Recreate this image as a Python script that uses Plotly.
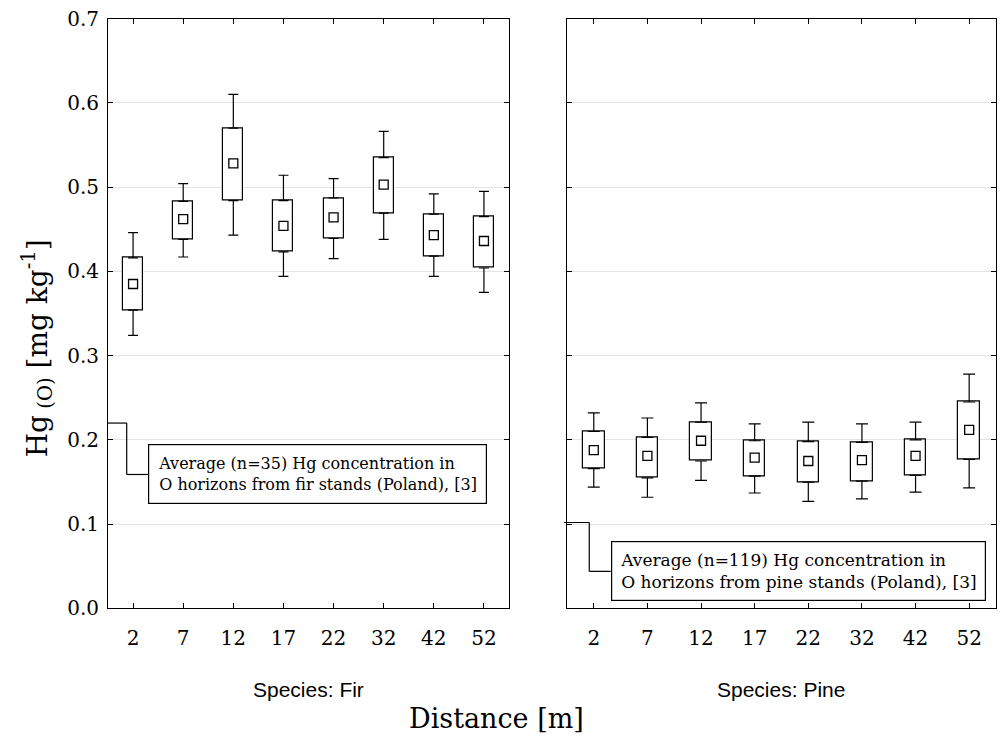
import plotly.graph_objects as go

# ---------------- data ----------------
distances = ['2', '7', '12', '17', '22', '32', '42', '52']

fir_mean = [0.385, 0.462, 0.528, 0.454, 0.464, 0.503, 0.443, 0.436]
fir_box_low = [0.354, 0.438, 0.484, 0.423, 0.439, 0.469, 0.418, 0.404]
fir_box_high = [0.416, 0.483, 0.570, 0.484, 0.487, 0.535, 0.468, 0.465]
fir_whisk_low = [0.324, 0.417, 0.443, 0.394, 0.415, 0.438, 0.394, 0.375]
fir_whisk_high = [0.446, 0.504, 0.610, 0.514, 0.510, 0.566, 0.492, 0.495]

pine_mean = [0.188, 0.181, 0.199, 0.179, 0.175, 0.176, 0.181, 0.212]
pine_box_low = [0.166, 0.155, 0.175, 0.157, 0.150, 0.151, 0.158, 0.177]
pine_box_high = [0.210, 0.203, 0.221, 0.199, 0.198, 0.197, 0.200, 0.245]
pine_whisk_low = [0.144, 0.132, 0.152, 0.137, 0.127, 0.130, 0.138, 0.143]
pine_whisk_high = [0.232, 0.226, 0.244, 0.219, 0.221, 0.219, 0.221, 0.278]

panel_titles = ['Species: Fir', 'Species: Pine']
ref_values = [0.22, 0.102]
ref_texts = [
    'Average (n=35) Hg concentration in<br>O horizons from fir stands (Poland), [3]',
    'Average (n=119) Hg concentration in<br>O horizons from pine stands (Poland), [3]',
]
y_ticks = [0.0, 0.1, 0.2, 0.3, 0.4, 0.5, 0.6, 0.7]

SERIF = 'DejaVu Serif'
SANS = 'Liberation Sans'

fig = go.Figure()

panels = [
    ('x', 'y', fir_mean, fir_box_low, fir_box_high, fir_whisk_low, fir_whisk_high, 5),
    ('x2', 'y2', pine_mean, pine_box_low, pine_box_high, pine_whisk_low, pine_whisk_high, 6),
]

for xa, ya, mean, bl, bh, wl, wh, capw in panels:
    fig.add_trace(go.Bar(
        x=distances, y=[h - l for h, l in zip(bh, bl)], base=bl,
        width=0.4, xaxis=xa, yaxis=ya,
        marker=dict(color='white', line=dict(color='black', width=1.2)),
        showlegend=False, hoverinfo='skip'))
    # upper whiskers
    fig.add_trace(go.Scatter(
        x=distances, y=bh, mode='markers', xaxis=xa, yaxis=ya,
        marker=dict(size=1, color='rgba(0,0,0,0)'),
        error_y=dict(type='data', symmetric=False,
                     array=[w - h for w, h in zip(wh, bh)],
                     arrayminus=[0] * len(bh),
                     width=capw, thickness=1.2, color='black'),
        showlegend=False, hoverinfo='skip'))
    # lower whiskers
    fig.add_trace(go.Scatter(
        x=distances, y=bl, mode='markers', xaxis=xa, yaxis=ya,
        marker=dict(size=1, color='rgba(0,0,0,0)'),
        error_y=dict(type='data', symmetric=False,
                     array=[0] * len(bl),
                     arrayminus=[l - w for l, w in zip(bl, wl)],
                     width=capw, thickness=1.2, color='black'),
        showlegend=False, hoverinfo='skip'))
    # means
    fig.add_trace(go.Scatter(
        x=distances, y=mean, mode='markers', xaxis=xa, yaxis=ya,
        marker=dict(symbol='square-open', size=9, color='black',
                    line=dict(width=1.3, color='black')),
        showlegend=False))

x_dom = [[0.1079, 0.5085], [0.5664, 0.995]]
y_dom = [0.1876, 0.9753]

axis_common = dict(showline=True, linecolor='black', linewidth=1,
                   mirror='ticks', ticks='inside', ticklen=5,
                   tickcolor='black', tickwidth=1, automargin=False)

xcommon = dict(axis_common, range=[-0.5, 7.5], type='category',
               showgrid=False, tickfont=dict(family=SERIF, size=20, color='black'),
               ticklabelstandoff=12)
ycommon = dict(axis_common, range=[0, 0.7], tickvals=y_ticks,
               tickformat='.1f', showgrid=True, gridcolor='#e4e4e4',
               gridwidth=1, zeroline=False,
               tickfont=dict(family=SERIF, size=20, color='black'))

fig.update_layout(
    width=1001, height=749,
    margin=dict(l=0, r=0, t=0, b=0, autoexpand=False),
    paper_bgcolor='white', plot_bgcolor='white',
    bargap=0,
    xaxis=dict(xcommon, domain=x_dom[0], anchor='y'),
    xaxis2=dict(xcommon, domain=x_dom[1], anchor='y2'),
    yaxis=dict(ycommon, domain=y_dom, anchor='x', ticklabelstandoff=4),
    yaxis2=dict(ycommon, domain=y_dom, anchor='x2', matches='y',
                showticklabels=False),
)

annotations = []
shapes = []
# panel titles
for i, t in enumerate(panel_titles):
    annotations.append(dict(
        text=t, xref='paper', yref='paper',
        x=(x_dom[i][0] + x_dom[i][1]) / 2, y=0.079,
        xanchor='center', yanchor='middle', showarrow=False,
        font=dict(family=SANS, size=21, color='black')))

# x axis title
annotations.append(dict(
    text='Distance [m]', xref='paper', yref='paper', x=0.4965, y=0.041,
    xanchor='center', yanchor='middle', showarrow=False,
    font=dict(family=SERIF, size=27, color='black')))

# y axis title
annotations.append(dict(
    text='Hg<sub> (O)</sub> [mg kg<sup>-1</sup>]', xref='paper', yref='paper',
    x=0.037, y=0.535, xanchor='center', yanchor='middle', textangle=-90,
    showarrow=False, font=dict(family=SERIF, size=28, color='black')))

# reference callouts
callout = [
    # (x start, elbow x, box left x, box y, font size, pad)
    ('x domain', 'y', 0.0, 0.0466, 0.1005, 0.159, 16, 9),
    ('x2 domain', 'y2', -0.007, 0.052, 0.1019, 0.044, 17, 8),
]
for i, (xr, yr, xs, xe, xb, yb, fs, pad) in enumerate(callout):
    rv = ref_values[i]
    line = dict(color='black', width=1.2)
    shapes.append(dict(type='line', xref=xr, yref=yr, x0=xs, x1=xe, y0=rv, y1=rv, line=line))
    shapes.append(dict(type='line', xref=xr, yref=yr, x0=xe, x1=xe, y0=rv, y1=yb, line=line))
    shapes.append(dict(type='line', xref=xr, yref=yr, x0=xe, x1=xb, y0=yb, y1=yb, line=line))
    annotations.append(dict(
        text=ref_texts[i], xref=xr, yref=yr, x=xb, y=yb,
        xanchor='left', yanchor='middle', align='left', showarrow=False,
        bordercolor='black', borderwidth=1.2, borderpad=pad, bgcolor='white',
        font=dict(family=SERIF, size=fs, color='black')))

fig.update_layout(annotations=annotations, shapes=shapes)

fig.write_html(
    'out.html',
    config={'displayModeBar': False},
    post_script="document.body.style.margin='0';document.body.style.padding='0';"
)
